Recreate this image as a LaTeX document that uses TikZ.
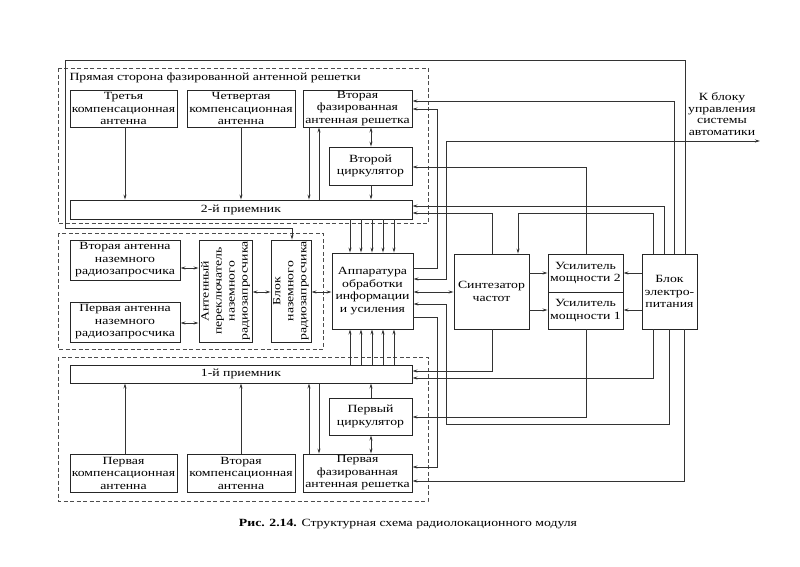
\documentclass[tikz,border=0pt]{standalone}
\usepackage{fontspec}
\setmainfont{Liberation Serif}[FakeStretch=1.25]
\usetikzlibrary{arrows.meta}
\begin{document}
\begin{tikzpicture}[x=1pt,y=-1pt,
  every node/.style={font=\fontsize{11}{12.5}\selectfont},
  blk/.style={draw=black!85, line width=0.9pt, align=center, inner sep=0pt},
  ln/.style={draw=black!80, line width=0.85pt},
  arr/.style={ln, -{Stealth[length=5pt,width=3pt]}},
  darr/.style={ln, {Stealth[length=5pt,width=3pt]}-{Stealth[length=5pt,width=3pt]}},
  rarr/.style={ln, {Stealth[length=5pt,width=3pt]}-},
  grp/.style={draw=black!70, dash pattern=on 4pt off 2.5pt, line width=0.8pt}
]
\useasboundingbox (0,0) rectangle (800,566);
\fill[white] (0,0) rectangle (800,566);

% groups
\draw[grp] (58,68) rectangle (428,223);
\draw[grp] (58,233) rectangle (323,349);
\draw[grp] (58,357) rectangle (428,501);

% top boxes
\node[blk, minimum width=107, minimum height=37] (t3) at (123.5,108.5) {Третья\\компенсационная\\антенна};
\node[blk, minimum width=108, minimum height=37] (t4) at (241,108.5) {Четвертая\\компенсационная\\антенна};
\node[blk, minimum width=109, minimum height=37] (far2) at (357.5,108.5) {Вторая\\фазированная\\антенная решетка};
\node[blk, minimum width=83, minimum height=38] (circ2) at (370.5,166) {Второй\\циркулятор};
\node[blk, minimum width=342, minimum height=19] (rx2) at (241,209.5) {2-й приемник};
\node[anchor=west] (ttl) at (66,78) {Прямая сторона фазированной антенной решетки};

% middle boxes
\node[blk, minimum width=110, minimum height=40] (ant2) at (125,260) {Вторая антенна\\наземного\\радиозапросчика};
\node[blk, minimum width=110, minimum height=40] (ant1) at (125,322) {Первая антенна\\наземного\\радиозапросчика};
\node[blk, minimum width=53, minimum height=102] (sw) at (225.5,291) {};
\node[rotate=90, align=center, font=\fontsize{11}{13}\selectfont] (swt) at (sw.center) {Антенный\\переключатель\\наземного\\радиозапросчика};
\node[blk, minimum width=40, minimum height=102] (grb) at (291,291) {};
\node[rotate=90, align=center, font=\fontsize{11}{13}\selectfont] (grbt) at (grb.center) {Блок\\наземного\\радиозапросчика};
\node[blk, minimum width=81, minimum height=76] (app) at (372.5,291) {Аппаратура\\обработки\\информации\\и усиления};
\node[blk, minimum width=75, minimum height=75] (syn) at (491.5,291.5) {Синтезатор\\частот};
\node[blk, minimum width=75, minimum height=38] (um2) at (585.5,273) {Усилитель\\мощности 2};
\node[blk, minimum width=75, minimum height=37] (um1) at (585.5,310.5) {Усилитель\\мощности 1};
\node[blk, minimum width=55, minimum height=75] (pwr) at (669.5,291.5) {Блок\\электро-\\питания};

% bottom boxes
\node[blk, minimum width=342, minimum height=18] (rx1) at (241,374) {1-й приемник};
\node[blk, minimum width=83, minimum height=37] (circ1) at (370.5,416.5) {Первый\\циркулятор};
\node[blk, minimum width=107, minimum height=38] (c1) at (123.5,473) {Первая\\компенсационная\\антенна};
\node[blk, minimum width=108, minimum height=38] (c2) at (241,473) {Вторая\\компенсационная\\антенна};
\node[blk, minimum width=109, minimum height=38] (far1) at (357.5,473) {Первая\\фазированная\\антенная решетка};

% labels
\coordinate (kout) at (760,141);
\node[align=center, font=\fontsize{11}{11.5}\selectfont] (klbl) at (722,114) {К блоку\\управления\\системы\\автоматики};
\node (cap) at (408,524) {\textbf{Рис. 2.14.} Структурная схема радиолокационного модуля};

% top connections
\draw[arr] (125,0 |- t3.south) -- (125,0 |- rx2.north);
\draw[arr] (241,0 |- t4.south) -- (241,0 |- rx2.north);
\draw[arr] (309,0 |- far2.south) -- (309,0 |- rx2.north);
\draw[arr] (319,0 |- rx2.north) -- (319,0 |- far2.south);
\draw[darr] (371,0 |- far2.south) -- (371,0 |- circ2.north);
\draw[arr] (371,0 |- circ2.south) -- (371,0 |- rx2.north);
\foreach \x in {350,361,372,383,394} \draw[arr] (\x,0 |- rx2.south) -- (\x,0 |- app.north);

% bottom connections
\draw[arr] (125,0 |- c1.north) -- (125,0 |- rx1.south);
\draw[arr] (241,0 |- c2.north) -- (241,0 |- rx1.south);
\draw[arr] (309,0 |- far1.north) -- (309,0 |- rx1.south);
\draw[arr] (319,0 |- rx1.south) -- (319,0 |- far1.north);
\draw[darr] (371,0 |- far1.north) -- (371,0 |- circ1.south);
\draw[arr] (371,0 |- circ1.north) -- (371,0 |- rx1.south);
\foreach \x in {350,361,372,383,394} \draw[arr] (\x,0 |- rx1.north) -- (\x,0 |- app.south);

% middle connections
\draw[darr] (ant2.east |- 0,268) -- (sw.west |- 0,268);
\draw[darr] (ant1.east |- 0,323) -- (sw.west |- 0,323);
\draw[darr] (sw.east |- 0,292) -- (grb.west |- 0,292);
\draw[darr] (grb.east |- 0,292) -- (app.west |- 0,292);
\draw[darr] (app.east |- 0,292) -- (syn.west |- 0,292);
\draw[arr] (syn.east |- 0,273) -- (um2.west |- 0,273);
\draw[arr] (syn.east |- 0,310) -- (um1.west |- 0,310);
\draw[arr] (pwr.west |- 0,273) -- (um2.east |- 0,273);
\draw[arr] (pwr.west |- 0,310) -- (um1.east |- 0,310);

% right routing
\draw[arr] (app.east |- 0,268) -| (437,109) -- (far2.east |- 0,109);
\draw[darr] (app.east |- 0,279) -| (446,141) -- (kout);
\draw[rarr] (app.east |- 0,304) -| (446,424) -| (669,0 |- pwr.south);
\draw[arr] (app.east |- 0,317) -| (437,467) -- (far1.east |- 0,467);
\draw[arr] (674,0 |- pwr.north) |- (far2.east |- 0,101);
\draw[arr] (664,0 |- pwr.north) |- (rx2.east |- 0,206);
\draw[arr] (653,0 |- pwr.north) |- (518,213) -- (518,0 |- syn.north);
\draw[arr] (492,0 |- syn.north) |- (rx2.east |- 0,213);
\draw[arr] (586,0 |- um2.north) |- (circ2.east |- 0,167);
\draw[arr] (685,0 |- pwr.north) |- (65,60) |- (292,228) -- (292,0 |- grb.north);
\draw[arr] (492,0 |- syn.south) |- (rx1.east |- 0,371);
\draw[arr] (653,0 |- pwr.south) |- (rx1.east |- 0,378);
\draw[arr] (586,0 |- um1.south) |- (circ1.east |- 0,417);
\draw[arr] (684,0 |- pwr.south) |- (far1.east |- 0,481);
\end{tikzpicture}
\end{document}
